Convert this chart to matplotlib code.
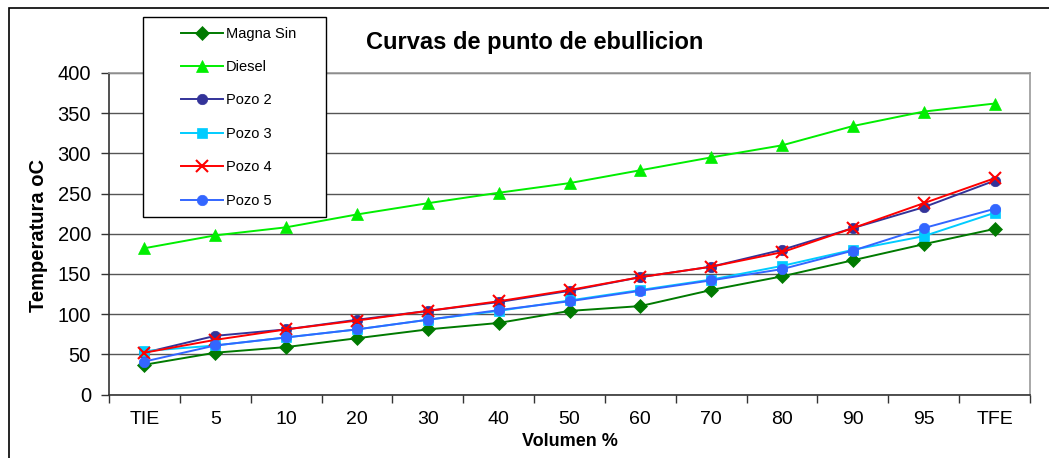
import matplotlib
matplotlib.use('Agg')
import matplotlib.pyplot as plt
from matplotlib.patches import Rectangle

plt.rcParams['font.family'] = ['Liberation Sans', 'DejaVu Sans']

categorias = ['TIE', '5', '10', '20', '30', '40', '50', '60', '70', '80', '90', '95', 'TFE']

magna_sin = [37, 52, 59, 70, 81, 89, 104, 110, 130, 147, 167, 187, 206]
diesel = [182, 198, 208, 224, 238, 251, 263, 279, 295, 310, 334, 352, 362]
pozo2 = [52, 73, 81, 93, 104, 115, 129, 146, 159, 180, 207, 233, 266]
pozo3 = [54, 61, 71, 81, 93, 104, 117, 130, 143, 160, 180, 197, 226]
pozo4 = [52, 68, 81, 92, 104, 116, 130, 146, 159, 177, 207, 238, 269]
pozo5 = [41, 61, 71, 81, 93, 105, 116, 129, 142, 156, 179, 207, 231]

series = [
    ('Magna Sin', magna_sin, '#007A00', 'D', 7),
    ('Diesel', diesel, '#00EE00', '^', 8.5),
    ('Pozo 2', pozo2, '#333399', 'o', 7.5),
    ('Pozo 3', pozo3, '#00CCFF', 's', 7),
    ('Pozo 4', pozo4, '#FF0000', 'x', 8),
    ('Pozo 5', pozo5, '#3366FF', 'o', 7.5),
]

fig = plt.figure(figsize=(10.49, 4.58), dpi=100)
W, H = 1049, 458
ax = fig.add_axes([109 / W, 1 - 394.5 / H, (1030 - 109) / W, (394.5 - 73) / H])

x = list(range(len(categorias)))
lineas = []
for nombre, vals, color, mk, ms in series:
    l, = ax.plot(x, vals, color=color, marker=mk, markersize=ms, lw=1.4,
                 markeredgewidth=1.5 if mk == 'x' else 0.5, label=nombre, zorder=3)
    lineas.append(l)

ax.set_ylim(0, 400)
ax.set_yticks(range(0, 401, 50))
ax.set_xlim(-0.5, len(categorias) - 0.5)
ax.set_xticks([i - 0.5 for i in range(len(categorias) + 1)])
ax.set_xticklabels([])
ax.set_xticks(x, minor=True)
ax.set_xticklabels(categorias, minor=True)
ax.tick_params(axis='x', which='major', length=6, width=1, color='#333333')
ax.tick_params(axis='x', which='minor', length=0, pad=12, labelsize=14)
ax.tick_params(axis='y', length=6, width=1, color='#333333', pad=7, labelsize=14.5)

ax.grid(axis='y', color='#555555', lw=1)
ax.set_axisbelow(True)
for s in ['top', 'right']:
    ax.spines[s].set_color('#999999')
    ax.spines[s].set_linewidth(1.2)
for s in ['left', 'bottom']:
    ax.spines[s].set_color('#333333')
    ax.spines[s].set_linewidth(1.2)

fig.text(535 / W, 1 - 42 / H, 'Curvas de punto de ebullicion', ha='center', va='center',
         fontsize=17, fontweight='bold')
fig.text(38.5 / W, 1 - 236 / H, 'Temperatura oC', ha='center', va='center', rotation=90,
         fontsize=14.5, fontweight='bold')
fig.text(570 / W, 1 - 441 / H, 'Volumen %', ha='center', va='center',
         fontsize=13, fontweight='bold')

# caja de la leyenda
fig.patches.append(Rectangle((143 / W, 1 - 217 / H), 183 / W, 200 / H, transform=fig.transFigure,
                             facecolor='white', edgecolor='black', lw=1, zorder=5))
leg = fig.legend(handles=lineas, loc='upper left', bbox_to_anchor=(169 / W, 1 - 15 / H),
                 frameon=False, fontsize=10.5, handlelength=2.9, handletextpad=0.2,
                 labelspacing=1.33, borderpad=0.3)
leg.set_zorder(6)

# borde del grafico
fig.patches.append(Rectangle((9 / W, -0.1), 1.2, (458 - 8) / H + 0.1, transform=fig.transFigure,
                             facecolor='none', edgecolor='black', lw=1.2, clip_on=False))

fig.savefig('out.png', dpi=100)
